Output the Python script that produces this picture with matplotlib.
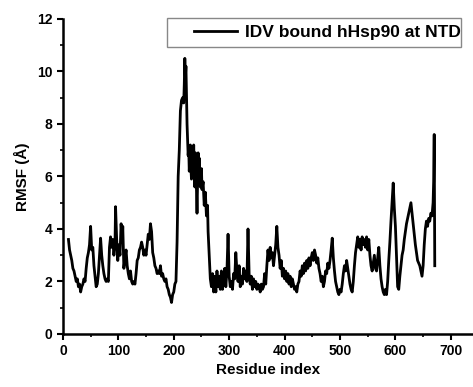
import matplotlib
matplotlib.use("Agg")
import matplotlib.pyplot as plt
from matplotlib.patches import Rectangle
from matplotlib.ticker import MultipleLocator

plt.rcParams["font.family"] = ["Liberation Sans", "DejaVu Sans"]
plt.rcParams["font.weight"] = "bold"

# Datos
residuo = [10, 12, 14, 16, 18, 20, 22, 24, 26, 28, 30, 32, 34, 36, 38, 40, 42, 44, 46, 48,
           50, 52, 54, 56, 58, 60, 62, 64, 66, 68, 70, 72, 74, 76, 78, 80, 82, 84, 86, 88,
           90, 92, 94, 95, 97, 99, 101, 103, 105, 107, 108, 110, 112, 114, 116, 118, 120, 122, 124, 126,
           128, 130, 132, 134, 136, 138, 140, 142, 144, 146, 148, 150, 152, 154, 156, 158, 160, 162, 164, 166,
           168, 170, 172, 174, 176, 178, 180, 182, 184, 186, 188, 190, 192, 194, 196, 198, 200, 202, 204, 206,
           208, 210, 212, 214, 216, 218, 219, 220, 221, 222, 224, 226, 227, 228, 230, 231, 232, 234, 235, 236,
           238, 239, 240, 242, 244, 245, 246, 248, 250, 251, 253, 255, 257, 259, 261, 262, 264, 266, 268, 270,
           272, 274, 276, 278, 280, 282, 284, 286, 288, 290, 292, 294, 296, 298, 300, 302, 304, 306, 308, 310,
           312, 314, 316, 318, 320, 322, 324, 326, 328, 330, 332, 334, 336, 338, 340, 342, 344, 346, 348, 350,
           352, 354, 356, 358, 360, 362, 364, 366, 368, 370, 372, 374, 376, 378, 380, 382, 384, 386, 388, 390,
           392, 394, 396, 398, 400, 402, 404, 406, 408, 410, 412, 414, 416, 418, 420, 422, 424, 426, 428, 430,
           432, 434, 436, 438, 440, 442, 444, 446, 448, 450, 452, 454, 456, 458, 460, 462, 464, 466, 468, 470,
           472, 474, 476, 478, 480, 482, 484, 486, 488, 490, 492, 494, 496, 498, 500, 502, 504, 506, 508, 510,
           512, 514, 516, 518, 520, 522, 524, 526, 528, 530, 532, 534, 536, 538, 540, 542, 544, 546, 548, 550,
           552, 554, 556, 558, 560, 562, 564, 566, 568, 570, 572, 574, 576, 578, 580, 582, 584, 586, 588, 590,
           592, 594, 596, 598, 600, 602, 604, 606, 608, 610, 612, 614, 616, 618, 620, 622, 624, 626, 628, 630,
           632, 634, 636, 638, 640, 642, 644, 646, 648, 650, 652, 654, 656, 658, 660, 662, 664, 666, 668, 669,
           670, 671]
rmsf = [3.6, 3.2, 3.0, 2.8, 2.5, 2.4, 2.2, 2.0, 2.1, 1.8, 1.9, 1.6, 1.8, 1.9, 2.1, 2.0, 2.5, 2.9, 3.1, 3.4,
        4.1, 3.2, 3.3, 2.6, 2.2, 1.8, 1.9, 2.3, 3.0, 3.65, 3.0, 2.6, 2.3, 2.1, 2.0, 2.1, 2.0, 3.3, 3.7, 3.3,
        3.6, 3.0, 3.4, 4.85, 3.6, 2.8, 3.4, 3.0, 4.2, 3.5, 4.1, 2.5, 2.9, 3.2, 2.6, 2.3, 2.1, 2.4, 2.0, 1.9,
        2.0, 1.9, 2.3, 2.8, 2.9, 3.2, 3.3, 3.5, 3.3, 3.0, 3.2, 3.0, 3.4, 3.8, 3.6, 4.2, 3.9, 3.1, 2.9, 2.6,
        2.5, 2.3, 2.4, 2.3, 2.6, 2.2, 2.3, 2.1, 2.0, 2.1, 1.8, 1.7, 1.5, 1.4, 1.2, 1.5, 1.6, 1.9, 2.0, 3.5,
        6.0, 7.0, 8.5, 8.9, 9.0, 8.8, 9.5, 10.5, 9.8, 10.2, 8.0, 6.8, 7.1, 6.2, 7.2, 6.3, 5.9, 7.0, 6.2, 7.2,
        5.6, 6.9, 6.4, 4.6, 6.9, 6.2, 6.7, 5.6, 6.3, 5.5, 5.8, 4.9, 5.4, 4.5, 4.9, 3.9, 3.0, 2.1, 1.8, 2.3,
        1.6, 2.2, 1.6, 2.4, 1.8, 2.2, 1.7, 2.4, 1.7, 2.2, 2.5, 1.8, 2.4, 3.8, 2.2, 1.8, 2.0, 1.7, 2.3, 2.1,
        3.1, 2.4, 2.0, 2.6, 1.8, 2.2, 1.9, 2.5, 2.1, 2.4, 2.0, 4.0, 2.3, 1.9, 2.2, 1.7, 2.1, 1.8, 2.0, 1.7,
        1.9, 1.8, 1.6, 1.9, 1.7, 1.8, 2.3, 1.9, 2.6, 3.2, 2.8, 3.3, 2.9, 3.1, 2.6, 3.0, 3.4, 4.1, 3.3, 3.0,
        2.5, 2.8, 2.2, 2.5, 2.1, 2.4, 2.0, 2.3, 1.9, 2.2, 1.8, 2.1, 1.9, 1.7, 1.8, 1.6, 1.9, 2.0, 2.4, 2.2,
        2.6, 2.3, 2.7, 2.4, 2.8, 2.5, 2.9, 2.6, 2.9, 3.1, 2.8, 3.2, 3.0, 2.7, 2.9, 2.5, 2.3, 2.0, 2.2, 1.8,
        2.0, 2.4, 2.3, 2.7, 2.5, 2.8, 3.2, 3.65, 2.9, 2.4, 2.0, 1.8, 1.6, 1.5, 1.7, 1.6, 1.9, 2.3, 2.6, 2.4,
        2.8, 2.5, 2.2, 1.9, 1.7, 1.6, 2.0, 2.6, 3.1, 3.4, 3.7, 3.3, 3.6, 3.2, 3.7, 3.4, 3.6, 3.3, 3.7, 3.2,
        3.6, 3.0, 2.6, 2.4, 2.7, 3.0, 2.5, 2.4, 2.9, 3.3, 2.6, 2.1, 1.8, 1.6, 1.5, 1.7, 1.5, 2.0, 2.8, 3.5,
        4.3, 5.0, 5.75, 4.8, 4.1, 3.0, 1.8, 1.7, 2.2, 2.6, 3.0, 3.2, 3.6, 3.9, 4.2, 4.4, 4.6, 4.8, 5.0, 4.6,
        4.2, 3.8, 3.4, 3.1, 2.8, 2.7, 2.6, 2.4, 2.2, 2.6, 3.4, 4.0, 4.3, 4.1, 4.4, 4.3, 4.6, 4.5, 5.0, 5.8,
        7.6, 2.6]

xticks = [0, 100, 200, 300, 400, 500, 600, 700]
yticks = [0, 2, 4, 6, 8, 10, 12]

fig = plt.figure(figsize=(4.73, 3.87), dpi=100)
ax = fig.add_axes([0.133, 0.137, 0.867, 0.814])

ax.plot(residuo, rmsf, color='black', linewidth=2.0, label="IDV bound hHsp90 at NTD")

ax.set_xlim(0, 740)
ax.set_ylim(0, 12)
ax.set_xticks(xticks)
ax.set_yticks(yticks)
ax.xaxis.set_minor_locator(MultipleLocator(50))
ax.yaxis.set_minor_locator(MultipleLocator(1))
ax.tick_params(which='major', direction='out', length=4, width=1.5, labelsize=10)
ax.tick_params(which='minor', direction='out', length=2.5, width=1.2)
for lab in ax.get_xticklabels() + ax.get_yticklabels():
    lab.set_fontweight('bold')

ax.spines['top'].set_visible(False)
ax.spines['right'].set_visible(False)
ax.spines['left'].set_linewidth(1.8)
ax.spines['bottom'].set_linewidth(1.8)

ax.set_xlabel('Residue index', fontsize=11, fontweight='bold', labelpad=3)
ax.set_ylabel('RMSF (Å)', fontsize=11, fontweight='bold', labelpad=5)

# leyenda sin marco + caja aparte (el original tiene mucho margen a la izquierda)
leg = ax.legend(loc='center left', bbox_to_anchor=(0.3195, 0.957), fontsize=12.5, frameon=False,
                handlelength=2.48, borderpad=0, handletextpad=0.46, borderaxespad=0)
for t in leg.get_texts():
    t.set_fontweight('bold')
caja = Rectangle((0.2537, 0.911), 0.717, 0.092, transform=ax.transAxes, fill=False,
                 edgecolor='#888888', linewidth=1.0, clip_on=False)
ax.add_patch(caja)

plt.savefig('out.png', dpi=100)
